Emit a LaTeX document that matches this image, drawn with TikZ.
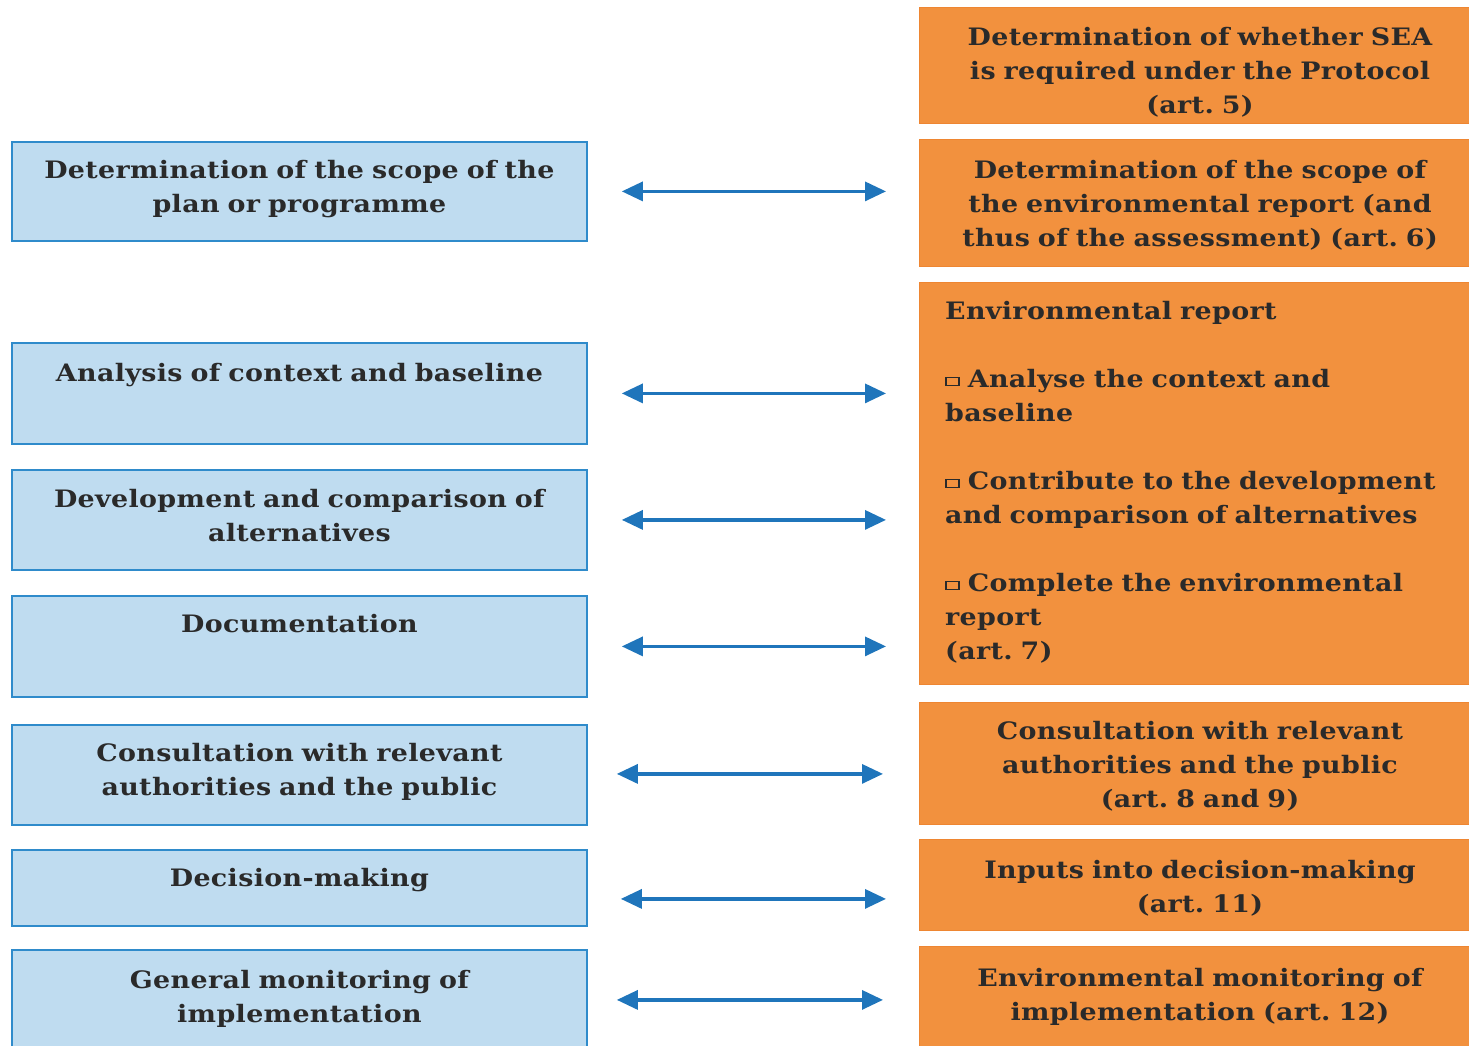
\documentclass[tikz,border=0pt]{standalone}
\usepackage{fontspec}
\setmainfont{DejaVu Serif}[FakeStretch=1.12,LetterSpace=1.5]
\usetikzlibrary{arrows.meta,calc}
\definecolor{lblue}{HTML}{BFDCF0}
\definecolor{bblue}{HTML}{2F8BCB}
\definecolor{aorange}{HTML}{F2913E}
\definecolor{borange}{HTML}{EE8632}
\definecolor{arrblue}{HTML}{1F75BB}
\definecolor{txt}{HTML}{2A2A2A}
\newcommand\sqbul{\raisebox{0.05em}{\tikz\draw[txt,line width=1.6pt](0,0) rectangle (13pt,8pt);}}
\frenchspacing
\begin{document}
\begin{tikzpicture}[x=1pt,y=-1pt,
  lbox/.style={draw=bblue,line width=1.8pt,fill=lblue,anchor=north west,inner sep=0pt,minimum width=575pt},
  rbox/.style={draw=borange,line width=1pt,fill=aorange,anchor=north west,inner sep=0pt,minimum width=580pt},
  btext/.style={anchor=north,align=center,text=txt,font=\fontsize{24}{34}\selectfont\bfseries,inner sep=0pt,text width=570pt},
  rtext/.style={anchor=north,align=center,text=txt,font=\fontsize{24}{34}\selectfont\bfseries,inner sep=0pt,text width=545pt},
  arr/.style={arrblue,line width=3.2pt,{Triangle[length=21pt,width=19pt]}-{Triangle[length=21pt,width=19pt]}}]
\useasboundingbox (0,0) rectangle (1469,1046);
\clip (0,0) rectangle (1469,1046);
% left boxes
\node[lbox,minimum height=99pt] (L1) at (11,141) {};
\node[lbox,minimum height=101pt] (L2) at (11,342) {};
\node[lbox,minimum height=100pt] (L3) at (11,469) {};
\node[lbox,minimum height=101pt] (L4) at (11,595) {};
\node[lbox,minimum height=100pt] (L5) at (11,724) {};
\node[lbox,minimum height=76pt] (L6) at (11,849) {};
\node[lbox,minimum height=120pt] (L7) at (11,949) {};
\node[btext] (L1t) at ([yshift=-19pt]L1.north) {Determination of the scope of the\\plan or programme};
\node[btext] (L2t) at ([yshift=-21pt]L2.north) {Analysis of context and baseline};
\node[btext] (L3t) at ([yshift=-20pt]L3.north) {Development and comparison of\\alternatives};
\node[btext] (L4t) at ([yshift=-19pt]L4.north) {Documentation};
\node[btext] (L5t) at ([yshift=-19pt]L5.north) {Consultation with relevant\\authorities and the public};
\node[btext] (L6t) at ([yshift=-19pt]L6.north) {Decision-making};
\node[btext] (L7t) at ([yshift=-21pt]L7.north) {General monitoring of\\implementation};
% right boxes
\node[rbox,minimum height=116pt] (R1) at (919,7) {};
\node[rbox,minimum height=127pt] (R2) at (919,139) {};
\node[rbox,minimum height=402pt] (R3) at (919,282) {};
\node[rbox,minimum height=122pt] (R4) at (919,702) {};
\node[rbox,minimum height=91pt] (R5) at (919,839) {};
\node[rbox,minimum height=120pt] (R6) at (919,946) {};
\node[rtext] (R1t) at (1200,27) {Determination of whether SEA\\is required under the Protocol\\(art. 5)};
\node[rtext] (R2t) at (1200,160) {Determination of the scope of\\the environmental report (and\\thus of the assessment) (art. 6)};
\node[rtext,align=left,anchor=north west,text width=530pt] (R3t) at (945,301) {Environmental report\\[34pt]\sqbul\ Analyse the context and\\baseline\\[34pt]\sqbul\ Contribute to the development\\and comparison of alternatives\\[34pt]\sqbul\ Complete the environmental\\report\\(art. 7)};
\node[rtext] (R4t) at (1200,721) {Consultation with relevant\\authorities and the public\\(art. 8 and 9)};
\node[rtext] (R5t) at (1200,860) {Inputs into decision-making\\(art. 11)};
\node[rtext] (R6t) at (1200,968) {Environmental monitoring of\\implementation (art. 12)};
% arrows
\draw[arr] ([xshift=34pt]L1.east) -- ([xshift=-33pt]L1.east -| R2.west);
\draw[arr] ([xshift=34pt]L2.east) -- ([xshift=-33pt]L2.east -| R3.west);
\draw[arr] ([xshift=34pt]L3.east) -- ([xshift=-33pt]L3.east -| R3.west);
\draw[arr] ([xshift=34pt]L4.east) -- ([xshift=-33pt]L4.east -| R3.west);
\draw[arr] ([xshift=29pt,yshift=1pt]L5.east) -- ([xshift=-36pt,yshift=1pt]L5.east -| R4.west);
\draw[arr] ([xshift=33pt,yshift=-11pt]L6.east) -- ([xshift=-33pt,yshift=-11pt]L6.east -| R5.west);
\draw[arr] ([xshift=29pt,yshift=10pt]L7.east) -- ([xshift=-36pt,yshift=10pt]L7.east -| R6.west);
\end{tikzpicture}
\end{document}
